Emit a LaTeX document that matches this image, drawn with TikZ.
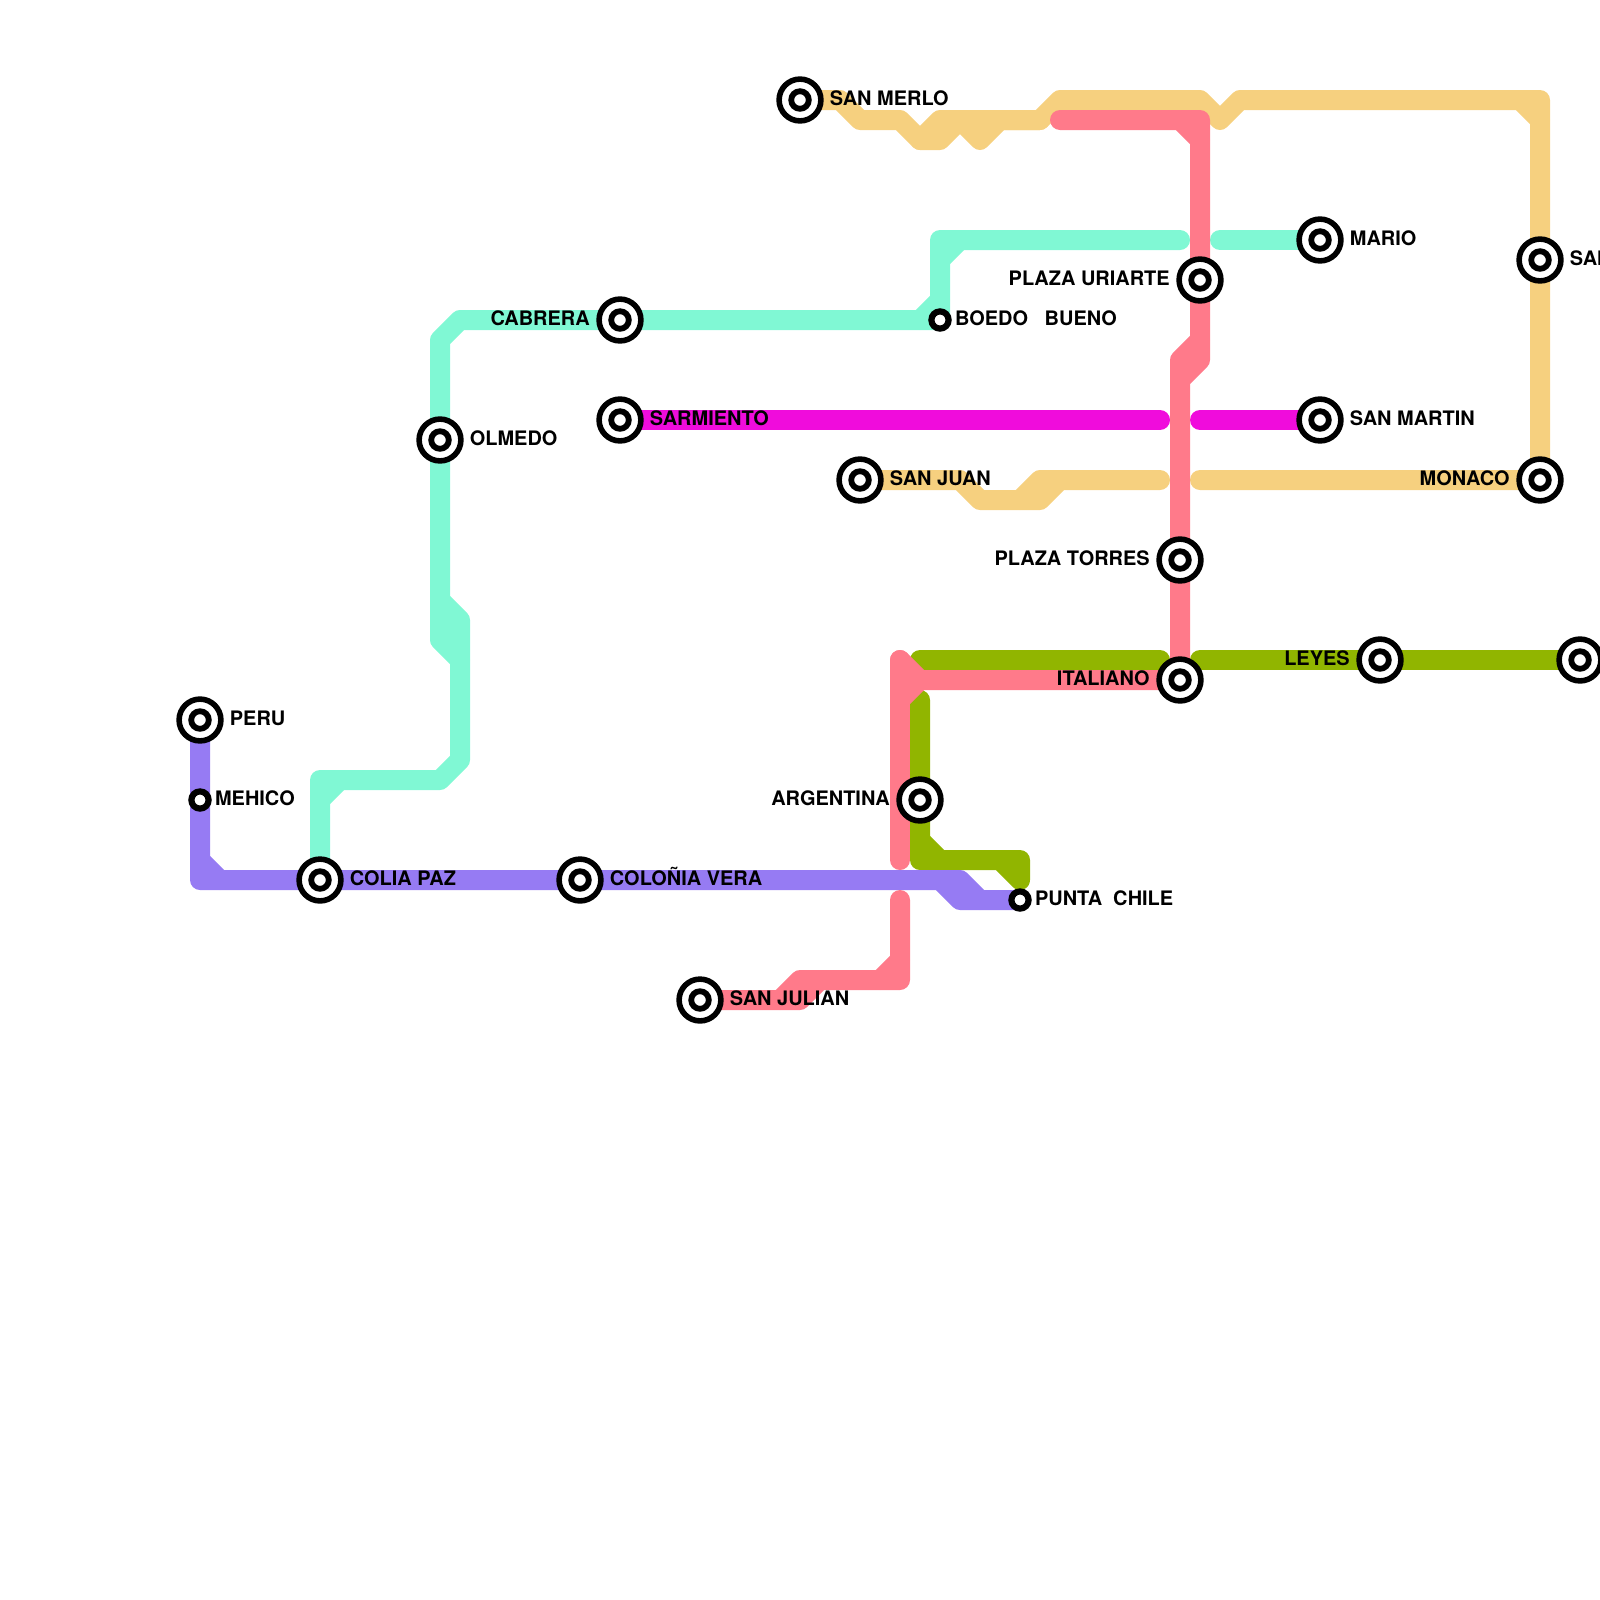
\documentclass[tikz,border=0pt]{standalone}
\usepackage{fontspec}
\setmainfont{TeX Gyre Heros}
\definecolor{lineyellow}{HTML}{F6D07F}
\definecolor{lineteal}{HTML}{80F8D4}
\definecolor{linepink}{HTML}{F00CDC}
\definecolor{linegreen}{HTML}{91B500}
\definecolor{linepurple}{HTML}{967BF3}
\definecolor{linered}{HTML}{FF7A8A}

\begin{document}
\begin{tikzpicture}[x=5mm, y=-5mm,
		metroline/.style={line width=5mm, line cap=round, line join=round},
		bigstop/.style={circle, draw=black, fill=white, line width=1.4mm, minimum size=10.45mm, inner sep=0pt},
		bigcore/.style={circle, draw=black, fill=white, line width=1.45mm, minimum size=4.4mm, inner sep=0pt},
		smallstop/.style={circle, draw=black, fill=white, line width=1.55mm, minimum size=4.3mm, inner sep=0pt},
		stopname/.style={font=\fontsize{14.2pt}{16pt}\selectfont\bfseries, inner sep=0pt, yshift=-1.25mm},
		nameright/.style={stopname, anchor=base west, xshift=7.4mm},
		nameleft/.style={stopname, anchor=base east, xshift=-7.5mm},
		namesmall/.style={stopname, anchor=base west, xshift=3.7mm}]
		\useasboundingbox (0,0) rectangle (80,80);

		% Stops
		\coordinate (peru) at (10,36);
		\coordinate (mehico) at (10,40);
		\coordinate (coliapaz) at (16,44);
		\coordinate (colonia) at (29,44);
		\coordinate (olmedo) at (22,22);
		\coordinate (cabrera) at (31,16);
		\coordinate (sarmiento) at (31,21);
		\coordinate (boedo) at (47,16);
		\coordinate (sanmerlo) at (40,5);
		\coordinate (sanjuan) at (43,24);
		\coordinate (uriarte) at (60,14);
		\coordinate (mario) at (66,12);
		\coordinate (sanmartin) at (66,21);
		\coordinate (san) at (77,13);
		\coordinate (monaco) at (77,24);
		\coordinate (torres) at (59,28);
		\coordinate (italiano) at (59,34);
		\coordinate (leyes) at (69,33);
		\coordinate (edge) at (79,33);
		\coordinate (argentina) at (46,40);
		\coordinate (punta) at (51,45);
		\coordinate (sanjulian) at (35,50);

		% Yellow lines
		\draw[metroline, lineyellow] (sanmerlo) -- (42,5) -- (43,6) -- (45,6) -- (46,7) -- (47,7) -- (48,6) -- (49,7) -- (50,6) -- (52,6) -- (53,5) -- (60,5) -- (61,6) -- (62,5) -- (77,5) -- (san) -- (monaco) -- (60,24);
		\draw[metroline, lineyellow] (46,7) -- (47,6) -- (52,6);
		\draw[metroline, lineyellow] (76,5) -- (77,6);
		\draw[metroline, lineyellow] (sanjuan) -- (48,24) -- (49,25) -- (52,25) -- (53,24) -- (58,24);
		\draw[metroline, lineyellow] (51,25) -- (52,24) -- (53,24);

		% Teal lines
		\draw[metroline, lineteal] (coliapaz) -- (16,39) -- (22,39) -- (23,38) -- (23,33) -- (22,32) -- (olmedo) -- (22,17) -- (23,16) -- (cabrera) -- (boedo) -- (47,12) -- (59,12);
		\draw[metroline, lineteal] (61,12) -- (mario);
		\draw[metroline, lineteal] (16,40) -- (17,39);
		\draw[metroline, lineteal] (22,30) -- (23,31) -- (23,33);
		\draw[metroline, lineteal] (46,16) -- (47,15);
		\draw[metroline, lineteal] (47,13) -- (48,12);

		% Pink line
		\draw[metroline, linepink] (sarmiento) -- (58,21);
		\draw[metroline, linepink] (60,21) -- (sanmartin);

		% Green lines
		\draw[metroline, linegreen] (46,33) -- (58,33);
		\draw[metroline, linegreen] (60,33) -- (leyes) -- (edge);
		\draw[metroline, linegreen] (46,35) -- (argentina) -- (46,43) -- (51,43) -- (51,44) -- (50,43);
		\draw[metroline, linegreen] (46,42) -- (47,43);

		% Purple line
		\draw[metroline, linepurple] (peru) -- (mehico) -- (10,44) -- (coliapaz) -- (colonia) -- (48,44) -- (49,45) -- (punta);
		\draw[metroline, linepurple] (10,43) -- (11,44);
		\draw[metroline, linepurple] (47,44) -- (48,45) -- (49,45);

		% Red lines
		\draw[metroline, linered] (53,6) -- (60,6) -- (uriarte) -- (60,18) -- (59,19) -- (torres) -- (italiano) -- (46,34);
		\draw[metroline, linered] (59,6) -- (60,7);
		\draw[metroline, linered] (60,17) -- (59,18) -- (59,19);
		\draw[metroline, linered] (45,33) -- (46,34) -- (45,35);
		\draw[metroline, linered] (45,33) -- (45,43);
		\draw[metroline, linered] (45,45) -- (45,49) -- (41,49) -- (40,50) -- (sanjulian);
		\draw[metroline, linered] (45,48) -- (44,49);
		\draw[metroline, linered] (39,50) -- (40,49) -- (41,49);

		% Stop marks
		\node[bigstop] (peruring) at (peru) {};
		\node[bigcore] (perucore) at (peru) {};
		\node[smallstop] (mehicoring) at (mehico) {};
		\node[bigstop] (coliaring) at (coliapaz) {};
		\node[bigcore] (coliacore) at (coliapaz) {};
		\node[bigstop] (coloniaring) at (colonia) {};
		\node[bigcore] (coloniacore) at (colonia) {};
		\node[bigstop] (olmedoring) at (olmedo) {};
		\node[bigcore] (olmedocore) at (olmedo) {};
		\node[bigstop] (cabreraring) at (cabrera) {};
		\node[bigcore] (cabreracore) at (cabrera) {};
		\node[bigstop] (sarmientoring) at (sarmiento) {};
		\node[bigcore] (sarmientocore) at (sarmiento) {};
		\node[smallstop] (boedoring) at (boedo) {};
		\node[bigstop] (merloring) at (sanmerlo) {};
		\node[bigcore] (merlocore) at (sanmerlo) {};
		\node[bigstop] (juanring) at (sanjuan) {};
		\node[bigcore] (juancore) at (sanjuan) {};
		\node[bigstop] (uriartering) at (uriarte) {};
		\node[bigcore] (uriartecore) at (uriarte) {};
		\node[bigstop] (marioring) at (mario) {};
		\node[bigcore] (mariocore) at (mario) {};
		\node[bigstop] (martinring) at (sanmartin) {};
		\node[bigcore] (martincore) at (sanmartin) {};
		\node[bigstop] (sanring) at (san) {};
		\node[bigcore] (sancore) at (san) {};
		\node[bigstop] (monacoring) at (monaco) {};
		\node[bigcore] (monacocore) at (monaco) {};
		\node[bigstop] (torresring) at (torres) {};
		\node[bigcore] (torrescore) at (torres) {};
		\node[bigstop] (italianoring) at (italiano) {};
		\node[bigcore] (italianocore) at (italiano) {};
		\node[bigstop] (leyesring) at (leyes) {};
		\node[bigcore] (leyescore) at (leyes) {};
		\node[bigstop] (edgering) at (edge) {};
		\node[bigcore] (edgecore) at (edge) {};
		\node[bigstop] (argentinaring) at (argentina) {};
		\node[bigcore] (argentinacore) at (argentina) {};
		\node[smallstop] (puntaring) at (punta) {};
		\node[bigstop] (julianring) at (sanjulian) {};
		\node[bigcore] (juliancore) at (sanjulian) {};

		% Stop names
		\node[nameright] (perutext) at (peru) {PERU};
		\node[namesmall] (mehicotext) at (mehico) {MEHICO};
		\node[nameright] (coliatext) at (coliapaz) {COLIA PAZ};
		\node[nameright] (coloniatext) at (colonia) {COLOÑIA VERA};
		\node[nameright] (olmedotext) at (olmedo) {OLMEDO};
		\node[nameleft] (cabreratext) at (cabrera) {CABRERA};
		\node[nameright] (sarmientotext) at (sarmiento) {SARMIENTO};
		\node[namesmall] (boedotext) at (boedo) {BOEDO\ \ \ BUENO};
		\node[nameright] (merlotext) at (sanmerlo) {SAN MERLO};
		\node[nameright] (juantext) at (sanjuan) {SAN JUAN};
		\node[nameleft] (uriartetext) at (uriarte) {PLAZA URIARTE};
		\node[nameright] (mariotext) at (mario) {MARIO};
		\node[nameright] (martintext) at (sanmartin) {SAN MARTIN};
		\node[nameright] (santext) at (san) {SAN};
		\node[nameleft] (monacotext) at (monaco) {MONACO};
		\node[nameleft] (torrestext) at (torres) {PLAZA TORRES};
		\node[nameleft] (italianotext) at (italiano) {ITALIANO};
		\node[nameleft] (leyestext) at (leyes) {LEYES};
		\node[nameleft] (argentinatext) at (argentina) {ARGENTINA};
		\node[namesmall] (puntatext) at (punta) {PUNTA\ \ CHILE};
		\node[nameright] (juliantext) at (sanjulian) {SAN JULIAN};
	\end{tikzpicture}
\end{document}
